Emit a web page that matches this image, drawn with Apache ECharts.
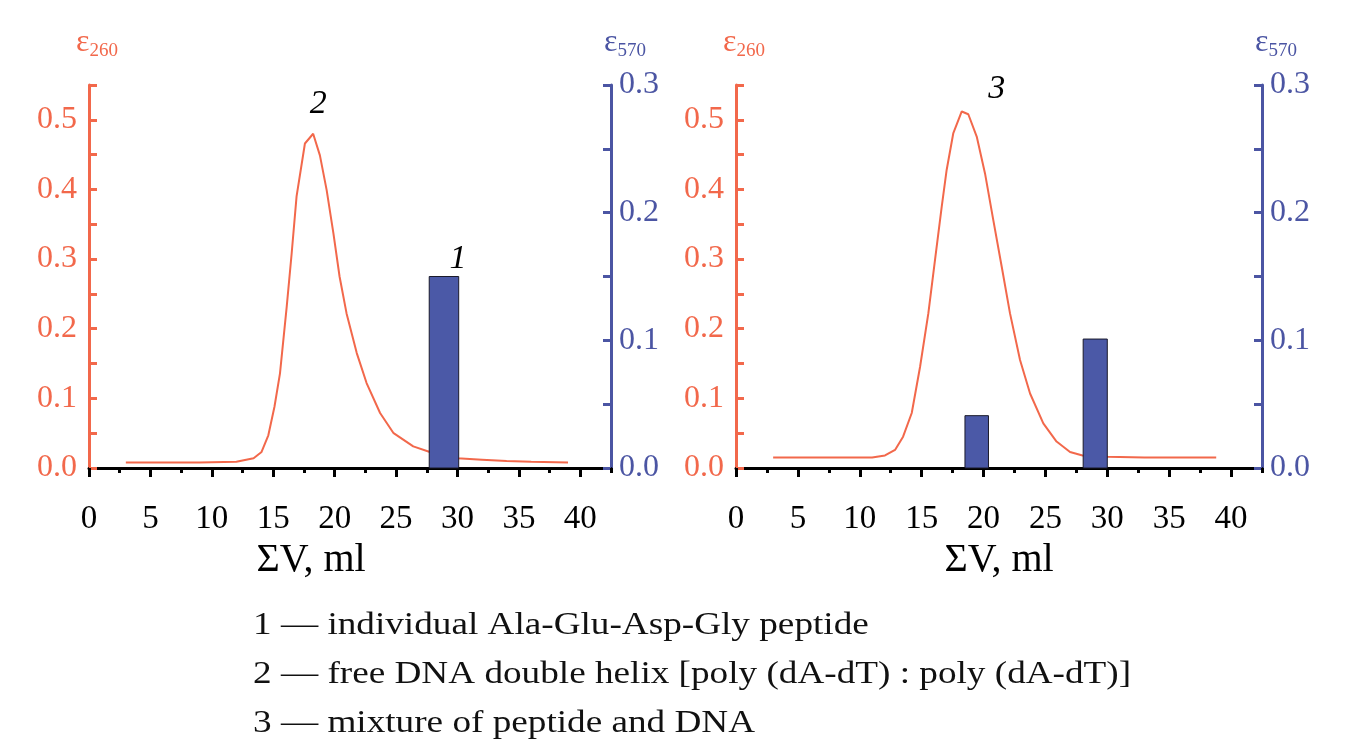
<!DOCTYPE html>
<html>
<head>
<meta charset="utf-8">
<title>Chromatogram</title>
<script src="https://cdn.jsdelivr.net/npm/echarts@6/dist/echarts.min.js"></script>
<style>
  html, body { margin: 0; height: 100%; background: #fff; }
  #chart { width: 1360px; height: 753px; }
</style>
</head>
<body>
<div id="chart"></div>
<script>
// elution volume (ml) vs extinction at 260 nm, panel A: free DNA (curve 2)
var dnaCurve = [
  [3, 0.008], [6, 0.008], [9, 0.008], [12, 0.009], [13.4, 0.014], [14.05, 0.023],
  [14.6, 0.047], [15.1, 0.088], [15.55, 0.136], [16.1, 0.232], [16.5, 0.308],
  [16.9, 0.39], [17.58, 0.466], [18.25, 0.48], [18.8, 0.449], [19.35, 0.399],
  [19.9, 0.337], [20.4, 0.275], [20.97, 0.222], [21.8, 0.165], [22.6, 0.122],
  [23.7, 0.079], [24.8, 0.05], [26.4, 0.031], [27.75, 0.023], [29, 0.018],
  [30, 0.014], [32, 0.012], [34, 0.01], [36, 0.009], [39, 0.008]
];
// panel B: peptide + DNA mixture (curve 3)
var mixCurve = [
  [3, 0.015], [6, 0.015], [9, 0.015], [11, 0.015], [12.04, 0.018], [12.85, 0.026],
  [13.5, 0.045], [14.2, 0.079], [14.87, 0.145], [15.54, 0.222], [16.08, 0.299],
  [16.62, 0.375], [17.02, 0.428], [17.56, 0.481], [18.24, 0.512], [18.77, 0.508],
  [19.45, 0.476], [20.12, 0.423], [20.79, 0.356], [21.47, 0.289], [22.14, 0.222],
  [22.95, 0.155], [23.76, 0.107], [24.83, 0.064], [25.9, 0.038], [26.99, 0.023],
  [28, 0.018], [30, 0.016], [33, 0.015], [36, 0.015], [38.8, 0.015]
];
// extinction at 570 nm fractions: [from ml, to ml, value, label]
var peptideBars = [[27.7, 30.1, 0.15, '1']];
var mixBars = [[18.5, 20.4, 0.041, ''], [28.05, 30, 0.101, '']];

var legendLines = [
  '1 \u2014 individual Ala-Glu-Asp-Gly peptide',
  '2 \u2014 free DNA double helix [poly (dA-dT) : poly (dA-dT)]',
  '3 \u2014 mixture of peptide and DNA'
];

var ORANGE = '#f2684b';
var BLUE = '#4b55a3';
var SERIF = '"Liberation Serif", "DejaVu Serif", serif';

var chart = echarts.init(document.getElementById('chart'));

function barLabel(params) {
  var src = params.seriesIndex === 1 ? peptideBars : mixBars;
  return src[params.dataIndex][3];
}

function renderBar(params, api) {
  var top = api.coord([api.value(0), api.value(2)]);
  var bot = api.coord([api.value(1), 0]);
  var lbl = barLabel(params);
  var el = {
    type: 'rect',
    shape: { x: top[0], y: top[1], width: bot[0] - top[0], height: bot[1] - top[1] },
    style: { fill: '#4b59a7', stroke: '#1a1a2a', lineWidth: 1 }
  };
  if (lbl) {
    el.textContent = {
      style: { text: lbl, fill: '#000', font: 'italic 34px ' + SERIF }
    };
    el.textConfig = { position: 'top', distance: 0, offset: [14, 0] };
  }
  return el;
}

function xAxes(gi) {
  return [{
    type: 'value', gridIndex: gi, position: 'bottom', min: 0, max: 42.5, interval: 5,
    axisLine: { onZero: false, lineStyle: { color: '#000', width: 3 } },
    axisTick: { length: 9, lineStyle: { width: 3, color: '#000' } },
    axisLabel: {
      color: '#000', fontFamily: SERIF, fontSize: 33, margin: 35,
      showMaxLabel: false
    },
    splitLine: { show: false },
    name: '\u03a3V, ml', nameLocation: 'middle', nameGap: 68,
    nameTextStyle: {
      color: '#000', fontFamily: SERIF, fontSize: 40,
      padding: gi === 0 ? [0, 78, 0, 0] : [0, 0, 0, 0]
    }
  }, {
    type: 'value', gridIndex: gi, position: 'bottom', min: 0, max: 42.5, interval: 2.5,
    axisLine: { show: false, onZero: false },
    axisTick: { length: 5, lineStyle: { width: 3, color: '#000' } },
    axisLabel: { show: false },
    splitLine: { show: false }
  }];
}

function yAxes(gi) {
  return [{
    type: 'value', gridIndex: gi, position: 'left', min: 0, max: 0.55, interval: 0.05,
    axisLine: { show: true, onZero: false, lineStyle: { color: ORANGE, width: 3 } },
    axisTick: { inside: true, length: 8, lineStyle: { color: ORANGE, width: 3 } },
    axisLabel: {
      color: ORANGE, fontFamily: SERIF, fontSize: 32, margin: 12,
      formatter: function (v) {
        var k = Math.round(v * 100);
        return (k % 10 === 0 && k <= 50) ? (k / 100).toFixed(1) : '';
      }
    },
    splitLine: { show: false },
    name: '{e|\u03b5}{s|260}', nameLocation: 'end', nameGap: 24,
    nameTextStyle: {
      padding: [0, 0, 0, 16],
      rich: {
        e: { color: ORANGE, fontFamily: SERIF, fontSize: 32 },
        s: { color: ORANGE, fontFamily: SERIF, fontSize: 19, padding: [18, 0, 0, 0] }
      }
    }
  }, {
    type: 'value', gridIndex: gi, position: 'right', min: 0, max: 0.3, interval: 0.05,
    axisLine: { show: true, onZero: false, lineStyle: { color: BLUE, width: 3 } },
    axisTick: { inside: true, length: 8, lineStyle: { color: BLUE, width: 3 } },
    axisLabel: {
      color: BLUE, fontFamily: SERIF, fontSize: 32, margin: 8,
      formatter: function (v) {
        var k = Math.round(v * 100);
        return k % 10 === 0 ? (k / 100).toFixed(1) : '';
      }
    },
    splitLine: { show: false },
    name: '{e|\u03b5}{s|570}', nameLocation: 'end', nameGap: 24,
    nameTextStyle: {
      padding: [0, 0, 0, 28],
      rich: {
        e: { color: BLUE, fontFamily: SERIF, fontSize: 32 },
        s: { color: BLUE, fontFamily: SERIF, fontSize: 19, padding: [18, 0, 0, 0] }
      }
    }
  }];
}

function peakMark(text, offset) {
  return {
    symbol: 'circle', symbolSize: 1,
    itemStyle: { color: 'rgba(0,0,0,0)' },
    label: {
      show: true, position: 'inside', offset: offset, formatter: text,
      color: '#000', fontFamily: SERIF, fontStyle: 'italic', fontSize: 34
    },
    data: [{ type: 'max', valueDim: 'y' }]
  };
}

var option = {
  backgroundColor: '#fff',
  animation: false,
  grid: [
    { left: 89, top: 85, width: 522, height: 383, outerBoundsMode: 'none' },
    { left: 736, top: 85, width: 526, height: 383, outerBoundsMode: 'none' }
  ],
  xAxis: xAxes(0).concat(xAxes(1)),
  yAxis: yAxes(0).concat(yAxes(1)),
  series: [{
    type: 'line', xAxisIndex: 0, yAxisIndex: 0, data: dnaCurve,
    showSymbol: false, lineStyle: { color: ORANGE, width: 2 }, z: 3,
    markPoint: peakMark('2', [5, -30])
  }, {
    type: 'custom', xAxisIndex: 0, yAxisIndex: 1, data: peptideBars,
    encode: { x: [0, 1], y: 2 }, renderItem: renderBar, z: 4
  }, {
    type: 'line', xAxisIndex: 2, yAxisIndex: 2, data: mixCurve,
    showSymbol: false, lineStyle: { color: ORANGE, width: 2 }, z: 3,
    markPoint: peakMark('3', [35, -22])
  }, {
    type: 'custom', xAxisIndex: 2, yAxisIndex: 3, data: mixBars,
    encode: { x: [0, 1], y: 2 }, renderItem: renderBar, z: 4
  }],
  graphic: legendLines.map(function (t, i) {
    return {
      type: 'text', x: 253, y: 610 + i * 49, scaleX: 1.2,
      style: { text: t, fill: '#111', font: '31px ' + SERIF }
    };
  })
};

chart.setOption(option);
</script>
</body>
</html>
